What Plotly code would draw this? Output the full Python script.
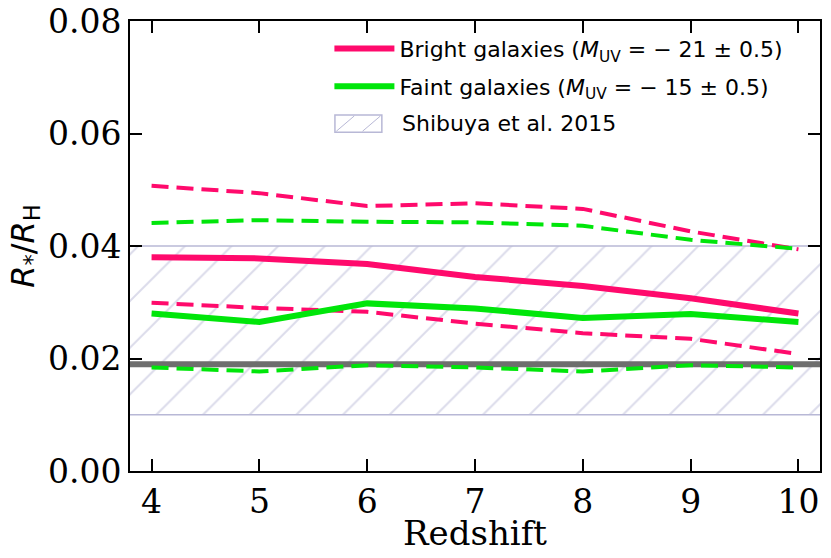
import plotly.graph_objects as go

# Redshift bins
redshift = [4, 5, 6, 7, 8, 9, 10]

# Bright galaxies (M_UV = -21 +/- 0.5): median and 16/84 percentiles
bright_med = [0.0380, 0.0378, 0.0368, 0.0345, 0.0329, 0.0307, 0.0280]
bright_hi = [0.0507, 0.0494, 0.0471, 0.0476, 0.0466, 0.0426, 0.0394]
bright_lo = [0.0299, 0.0290, 0.0283, 0.0262, 0.0245, 0.0235, 0.0208]

# Faint galaxies (M_UV = -15 +/- 0.5)
faint_med = [0.0280, 0.0265, 0.0298, 0.0289, 0.0272, 0.0279, 0.0265]
faint_hi = [0.0441, 0.0446, 0.0443, 0.0442, 0.0436, 0.0411, 0.0395]
faint_lo = [0.0184, 0.0177, 0.0188, 0.0184, 0.0177, 0.0188, 0.0184]

# Shibuya et al. 2015 range and reference value
shibuya_lo, shibuya_hi = 0.01, 0.04
shibuya_label = "Shibuya et al. 2015"
ref_value = 0.019

xlim = [3.8, 10.2]
pink = "#ff0a6c"
green = "#00e60a"
hatch = "#b8b8d6"

fig = go.Figure()

# hatched band (spans the whole x range)
fig.add_trace(go.Scatter(
    x=[xlim[0], xlim[1], xlim[1], xlim[0], xlim[0]],
    y=[shibuya_lo, shibuya_lo, shibuya_hi, shibuya_hi, shibuya_lo],
    mode="none", fill="toself", fillcolor="rgba(0,0,0,0)",
    fillpattern=dict(shape="/", fgcolor=hatch, bgcolor="rgba(0,0,0,0)",
                     size=33, solidity=0.06),
    name=shibuya_label, showlegend=False,
))
# band edges
for yv in [shibuya_lo, shibuya_hi]:
    fig.add_trace(go.Scatter(
        x=xlim, y=[yv, yv], mode="lines",
        line=dict(color=hatch, width=1.5), showlegend=False,
    ))

# horizontal gray reference line
fig.add_trace(go.Scatter(
    x=xlim, y=[ref_value, ref_value], mode="lines",
    line=dict(color="#6e6e6e", width=6), showlegend=False,
))

for y, col in [(bright_hi, pink), (bright_lo, pink), (faint_hi, green), (faint_lo, green)]:
    fig.add_trace(go.Scatter(
        x=redshift, y=y, mode="lines",
        line=dict(color=col, width=4, dash="17px,8px"), showlegend=False,
    ))

fig.add_trace(go.Scatter(
    x=redshift, y=bright_med, mode="lines", line=dict(color=pink, width=6),
    name="Bright galaxies (<i>M</i><sub>UV</sub> = \u2212 21 \u00b1 0.5)",
    legendrank=1, legendgroup="a",
))
fig.add_trace(go.Scatter(
    x=redshift, y=faint_med, mode="lines", line=dict(color=green, width=6),
    name="Faint galaxies (<i>M</i><sub>UV</sub> = \u2212 15 \u00b1 0.5)",
    legendrank=2, legendgroup="b",
))

# hand-drawn legend entry for the hatched band (box with hatching)
fig.add_shape(type="rect", xref="paper", yref="paper",
              x0=0.297, x1=0.365, y0=0.753, y1=0.791,
              line=dict(color=hatch, width=1.5), fillcolor="rgba(0,0,0,0)")
for x0, x1 in [(0.299, 0.325), (0.337, 0.363)]:
    fig.add_shape(type="line", xref="paper", yref="paper",
                  x0=x0, x1=x1, y0=0.755, y1=0.789,
                  line=dict(color=hatch, width=1))
fig.add_annotation(text=shibuya_label, xref="paper", yref="paper",
                   x=0.391, y=0.772, xanchor="left", yanchor="middle", showarrow=False,
                   font=dict(family="DejaVu Sans", size=22, color="black"))

# x axis title as an annotation so it sits exactly under the tick labels
fig.add_annotation(text="Redshift", xref="paper", yref="paper",
                   x=0.5, y=-0.138, xanchor="center", yanchor="middle", showarrow=False,
                   font=dict(family="DejaVu Serif", size=34, color="black"))

axis_common = dict(
    showline=True, linecolor="black", linewidth=2, mirror="allticks",
    ticks="inside", ticklen=12, tickwidth=2, tickcolor="black",
    showgrid=False, zeroline=False, automargin=False,
    tickfont=dict(family="DejaVu Serif", size=33, color="black"),
)

fig.update_xaxes(range=xlim, tickvals=redshift, **axis_common)
fig.update_yaxes(
    range=[0, 0.08], tickvals=[0, 0.02, 0.04, 0.06, 0.08], tickformat=".2f", **axis_common,
    title=dict(text="<i>R</i><sub>*</sub>/<i>R</i><sub>H</sub>",
               font=dict(family="DejaVu Sans", size=32, color="black"), standoff=4),
)

fig.update_layout(
    width=831, height=558,
    margin=dict(l=130, r=11, t=21, b=87),
    plot_bgcolor="white", paper_bgcolor="white",
    legend=dict(
        x=0.289, y=0.985, xanchor="left", yanchor="top",
        font=dict(family="DejaVu Sans", size=22, color="black"),
        bgcolor="rgba(255,255,255,0)", itemwidth=60, tracegroupgap=6,
    ),
)

fig.write_html("out.html", config={"displayModeBar": False},
               post_script="document.body.style.margin='0';")
